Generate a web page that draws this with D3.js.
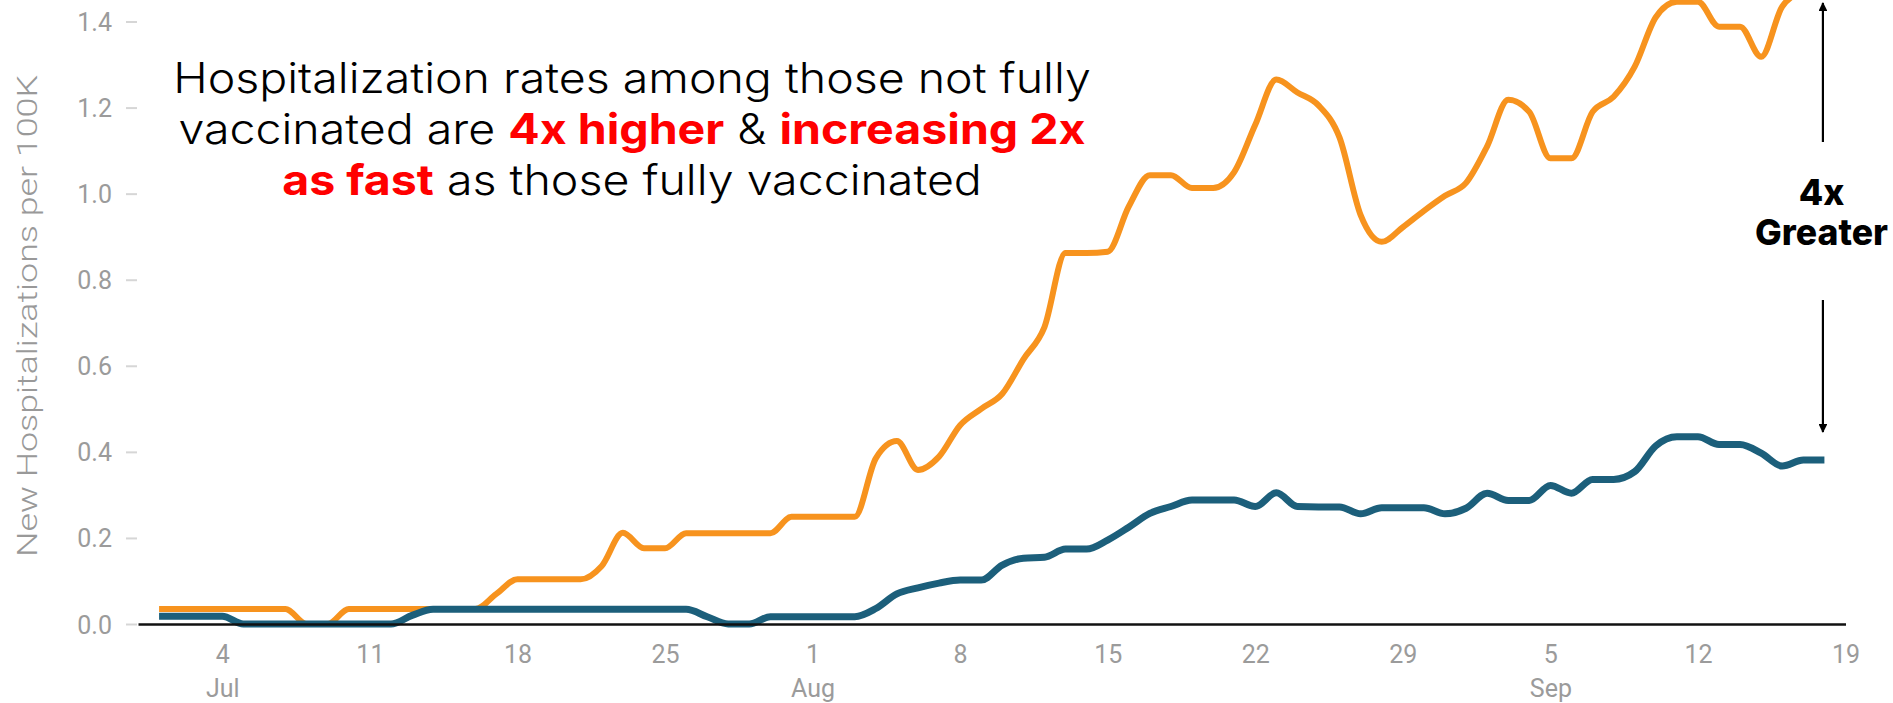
<!DOCTYPE html>
<html>
<head>
<meta charset="utf-8">
<script src="https://cdn.jsdelivr.net/npm/d3@7"></script>
<style>
	html, body { margin: 0; padding: 0; background: #fff; }
	svg { display: block; }
	.tick text { font-family: Roboto, sans-serif; fill: #9b9b9b; }
</style>
</head>
<body>
<svg width="1893" height="703"></svg>
<script>
const startDate = new Date(2021, 6, 1);

// new hospitalizations per 100K, daily from Jul 1 to Sep 18
const notFullyVaccinated = [
	0.035, 0.035, 0.035, 0.035, 0.035, 0.035, 0.035, 0.0, 0.0, 0.035,
	0.035, 0.035, 0.035, 0.035, 0.035, 0.035, 0.07, 0.104, 0.104, 0.104,
	0.104, 0.135, 0.212, 0.176, 0.176, 0.211, 0.211, 0.211, 0.211, 0.211,
	0.249, 0.249, 0.249, 0.249, 0.385, 0.425, 0.358, 0.389, 0.462, 0.50,
	0.535, 0.615, 0.69, 0.862, 0.862, 0.865, 0.97, 1.043, 1.043, 1.013,
	1.013, 1.05, 1.16, 1.265, 1.235, 1.205, 1.13, 0.95, 0.888, 0.922,
	0.96, 0.995, 1.025, 1.11, 1.218, 1.19, 1.082, 1.082, 1.19, 1.225,
	1.295, 1.41, 1.446, 1.446, 1.388, 1.388, 1.318, 1.435, 1.47, 1.48
];

const fullyVaccinated = [
	0.018, 0.018, 0.018, 0.018, 0.0, 0.0, 0.0, 0.0, 0.0, 0.0,
	0.0, 0.0, 0.02, 0.034, 0.034, 0.034, 0.034, 0.034, 0.034, 0.034,
	0.034, 0.034, 0.034, 0.034, 0.034, 0.034, 0.017, 0.0, 0.0, 0.017,
	0.017, 0.017, 0.017, 0.017, 0.036, 0.07, 0.084, 0.095, 0.102, 0.102,
	0.137, 0.153, 0.155, 0.174, 0.174, 0.195, 0.225, 0.257, 0.273, 0.288,
	0.288, 0.288, 0.273, 0.305, 0.273, 0.272, 0.272, 0.256, 0.27, 0.27,
	0.27, 0.256, 0.269, 0.304, 0.287, 0.287, 0.322, 0.304, 0.336, 0.336,
	0.354, 0.414, 0.435, 0.435, 0.417, 0.417, 0.397, 0.367, 0.381, 0.381
];

const yTicks = [0, 0.2, 0.4, 0.6, 0.8, 1.0, 1.2, 1.4];
const monthNames = ["Jan", "Feb", "Mar", "Apr", "May", "Jun", "Jul", "Aug", "Sep", "Oct", "Nov", "Dec"];

const titleLines = [
	[["Hospitalization rates among those not fully", false]],
	[["vaccinated are ", false], ["4x higher", true], [" & ", false], ["increasing 2x", true]],
	[["as fast", true], [" as those fully vaccinated", false]]
];

const dates = notFullyVaccinated.map((d, i) => d3.timeDay.offset(startDate, i));

const svg = d3.select("svg");

const x = d3.scaleTime()
	.domain([new Date(2021, 5, 30), new Date(2021, 8, 19)])
	.range([138, 1845.5]);

const y = d3.scaleLinear()
	.domain([0, 1.4])
	.range([624, 21.5]);

// y axis
const yAxis = svg.append("g")
	.attr("transform", "translate(137,0)")
	.call(d3.axisLeft(y).tickValues(yTicks).tickFormat(d3.format(".1f")).tickSize(11).tickPadding(14));
yAxis.select(".domain").remove();
yAxis.selectAll(".tick line").attr("stroke", "#d6d6d6").attr("stroke-width", 2);
yAxis.selectAll(".tick text").attr("font-size", 25).attr("dy", "0.36em");

svg.append("text")
	.attr("transform", "translate(37,316) rotate(-90)")
	.attr("text-anchor", "middle")
	.attr("font-family", "Roboto, sans-serif")
	.attr("font-weight", 300)
	.attr("font-size", 28)
	.attr("fill", "#999")
	.attr("textLength", 482)
	.attr("lengthAdjust", "spacingAndGlyphs")
	.text("New Hospitalizations per 100K");

// lines
const line = d3.line()
	.x((d, i) => x(dates[i]))
	.y(d => y(d))
	.curve(d3.curveMonotoneX);

svg.append("path")
	.datum(notFullyVaccinated)
	.attr("fill", "none")
	.attr("stroke", "#f7931e")
	.attr("stroke-width", 6)
	.attr("stroke-linejoin", "round")
	.attr("d", line);

svg.append("path")
	.datum(fullyVaccinated)
	.attr("fill", "none")
	.attr("stroke", "#1c5f7b")
	.attr("stroke-width", 7)
	.attr("stroke-linejoin", "round")
	.attr("d", line);

// x axis
const xAxis = svg.append("g")
	.attr("transform", "translate(0,624)")
	.call(d3.axisBottom(x).ticks(d3.timeWeek.every(1)).tickSize(0).tickSizeOuter(0).tickFormat(""));
xAxis.select(".domain").attr("stroke", "#111").attr("stroke-width", 2.5);
xAxis.selectAll(".tick text").remove();

xAxis.selectAll(".tick").each(function(d) {
	const t = d3.select(this).append("text")
		.attr("text-anchor", "middle")
		.attr("font-size", 25);
	t.append("tspan").attr("x", 0).attr("y", 39).text(d.getDate());
	if (d.getDate() <= 7) {
		t.append("tspan").attr("x", 0).attr("y", 73).text(monthNames[d.getMonth()]);
	}
});

// headline
const title = svg.append("g");
titleLines.forEach((parts, i) => {
	const t = title.append("text")
		.attr("text-anchor", "middle")
		.attr("y", 93 + i * 51)
		.attr("font-family", "Inter, 'Open Sans', sans-serif")
		.attr("font-size", 42)
		.attr("fill", "#000");
	parts.forEach(([s, strong]) => {
		t.append("tspan")
			.attr("font-weight", strong ? 700 : 300)
			.attr("fill", strong ? "#ff0000" : "#000")
			.text(s);
	});
});
const firstWidth = title.select("text").node().getComputedTextLength();
title.attr("transform", `translate(632,0) scale(${918 / firstWidth},1)`);

// 4x greater annotation
const xLast = x(dates[dates.length - 1]) - 1.5;

svg.append("defs").append("marker")
	.attr("id", "head")
	.attr("viewBox", "0 0 10 10")
	.attr("refX", 9)
	.attr("refY", 5)
	.attr("markerWidth", 4)
	.attr("markerHeight", 4)
	.attr("orient", "auto")
	.append("path")
	.attr("d", "M0,0L10,5L0,10z")
	.attr("fill", "#000");

svg.append("line")
	.attr("x1", xLast).attr("x2", xLast)
	.attr("y1", 142).attr("y2", 3)
	.attr("stroke", "#000").attr("stroke-width", 2.2)
	.attr("marker-end", "url(#head)");

svg.append("line")
	.attr("x1", xLast).attr("x2", xLast)
	.attr("y1", 300).attr("y2", 432)
	.attr("stroke", "#000").attr("stroke-width", 2.2)
	.attr("marker-end", "url(#head)");

const note = svg.append("g");
["4x", "Greater"].forEach((s, i) => {
	note.append("text")
		.attr("text-anchor", "middle")
		.attr("y", 205 + i * 40)
		.attr("font-family", "Inter, 'Open Sans', sans-serif")
		.attr("font-weight", 800)
		.attr("font-size", 36)
		.attr("fill", "#000")
		.text(s);
});
const noteWidth = note.selectAll("text").nodes()[1].getComputedTextLength();
note.attr("transform", `translate(1821.5,0) scale(${133 / noteWidth},1)`);
</script>
</body>
</html>
